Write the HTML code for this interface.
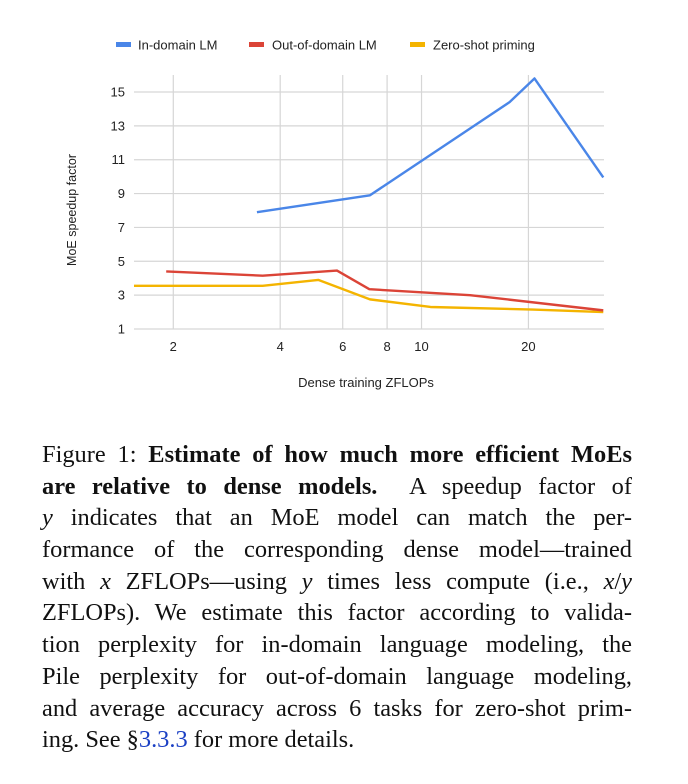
<!DOCTYPE html>
<html><head><meta charset="utf-8"><style>
body{margin:0;background:#fff;width:688px;height:784px;overflow:hidden;position:relative}
svg text{font-family:"Liberation Sans",sans-serif}
#cap{position:absolute;left:42px;top:439px;width:590px;font-family:"Liberation Serif",serif;font-size:24.4px;color:#111}
#cap div{height:31.7px;line-height:31.7px;text-align:justify;text-align-last:justify;white-space:nowrap}
#cap div.last{text-align-last:left}
</style></head><body>
<svg id="chart" width="688" height="420" style="position:absolute;left:0;top:0">
<g font-size="13" fill="#222">
<rect x="116" y="42" width="15" height="5" fill="#4a86e8"/>
<text x="138" y="49.5">In-domain LM</text>
<rect x="249" y="42" width="15" height="5" fill="#db4437"/>
<text x="272" y="49.5">Out-of-domain LM</text>
<rect x="410" y="42" width="15" height="5" fill="#f4b400"/>
<text x="433" y="49.5">Zero-shot priming</text>
</g>
<g id="grid"></g><g id="lines"></g>
<text x="366" y="387" font-size="13" text-anchor="middle" fill="#222">Dense training ZFLOPs</text>
<text transform="translate(76,210) rotate(-90)" font-size="12.5" text-anchor="middle" fill="#222">MoE speedup factor</text>
</svg>
<script>
const xTicks=[2,4,6,8,10,20];
const yTicks=[1,3,5,7,9,11,13,15];
const inDomainX=[3.44,7.16,17.7,20.8,32.5];
const inDomainY=[7.9,8.9,14.4,15.8,9.95];
const outDomainX=[1.91,3.57,5.78,7.13,13.7,32.5];
const outDomainY=[4.4,4.15,4.45,3.35,3.0,2.1];
const zeroShotX=[1.55,3.57,5.12,7.16,10.6,20.6,32.5];
const zeroShotY=[3.55,3.55,3.9,2.75,2.3,2.15,2.0];
const L=134,R=604,T=75;
const xs=v=>173.3+106.9*Math.log2(v/2);
const ys=v=>329-(v-1)*(329-92)/14;
const NS="http://www.w3.org/2000/svg";
const grid=document.getElementById('grid'),lines=document.getElementById('lines');
function mk(tag,attrs,parent){const e=document.createElementNS(NS,tag);for(const k in attrs)e.setAttribute(k,attrs[k]);parent.appendChild(e);return e;}
yTicks.forEach(t=>{
 const l=mk('line',{x1:L,x2:R,y1:ys(t),y2:ys(t),stroke:'#d6d6d6','stroke-width':1.2},grid);
 
 
 const tx=mk('text',{x:125,y:ys(t)+4.5,'text-anchor':'end','font-size':13,fill:'#222'},grid);
 tx.textContent=t;
 
 
});
xTicks.forEach(t=>{
 const l=mk('line',{x1:xs(t),x2:xs(t),y1:T,y2:329,stroke:'#d6d6d6','stroke-width':1.2},grid);
 
 
 const tx=mk('text',{x:xs(t),y:351,'text-anchor':'middle','font-size':13,fill:'#222'},grid);
 tx.textContent=t;
 
 
});
function series(X,Y,c,n){
 const p=mk('polyline',{points:X.map((x,i)=>xs(x)+','+ys(Y[i])).join(' '),fill:'none',stroke:c,'stroke-width':2.4,'stroke-linejoin':'round'},lines);
 
 
}
series(zeroShotX,zeroShotY,'#f4b400','zero-shot-line');
series(outDomainX,outDomainY,'#db4437','out-of-domain-line');
series(inDomainX,inDomainY,'#4a86e8','in-domain-line');
</script>
<div id="cap">
<div>Figure 1: <b>Estimate of how much more efficient MoEs</b></div>
<div><b>are relative to dense models.</b>&nbsp; A speedup factor of</div>
<div><i>y</i> indicates that an MoE model can match the per-</div>
<div>formance of the corresponding dense model—trained</div>
<div>with <i>x</i> ZFLOPs—using <i>y</i> times less compute (i.e., <i>x</i>/<i>y</i></div>
<div>ZFLOPs). We estimate this factor according to valida-</div>
<div>tion perplexity for in-domain language modeling, the</div>
<div>Pile perplexity for out-of-domain language modeling,</div>
<div>and average accuracy across 6 tasks for zero-shot prim-</div>
<div class="last">ing. See §<span style="color:#1a3fc4">3.3.3</span> for more details.</div>
</div>
</body></html>
